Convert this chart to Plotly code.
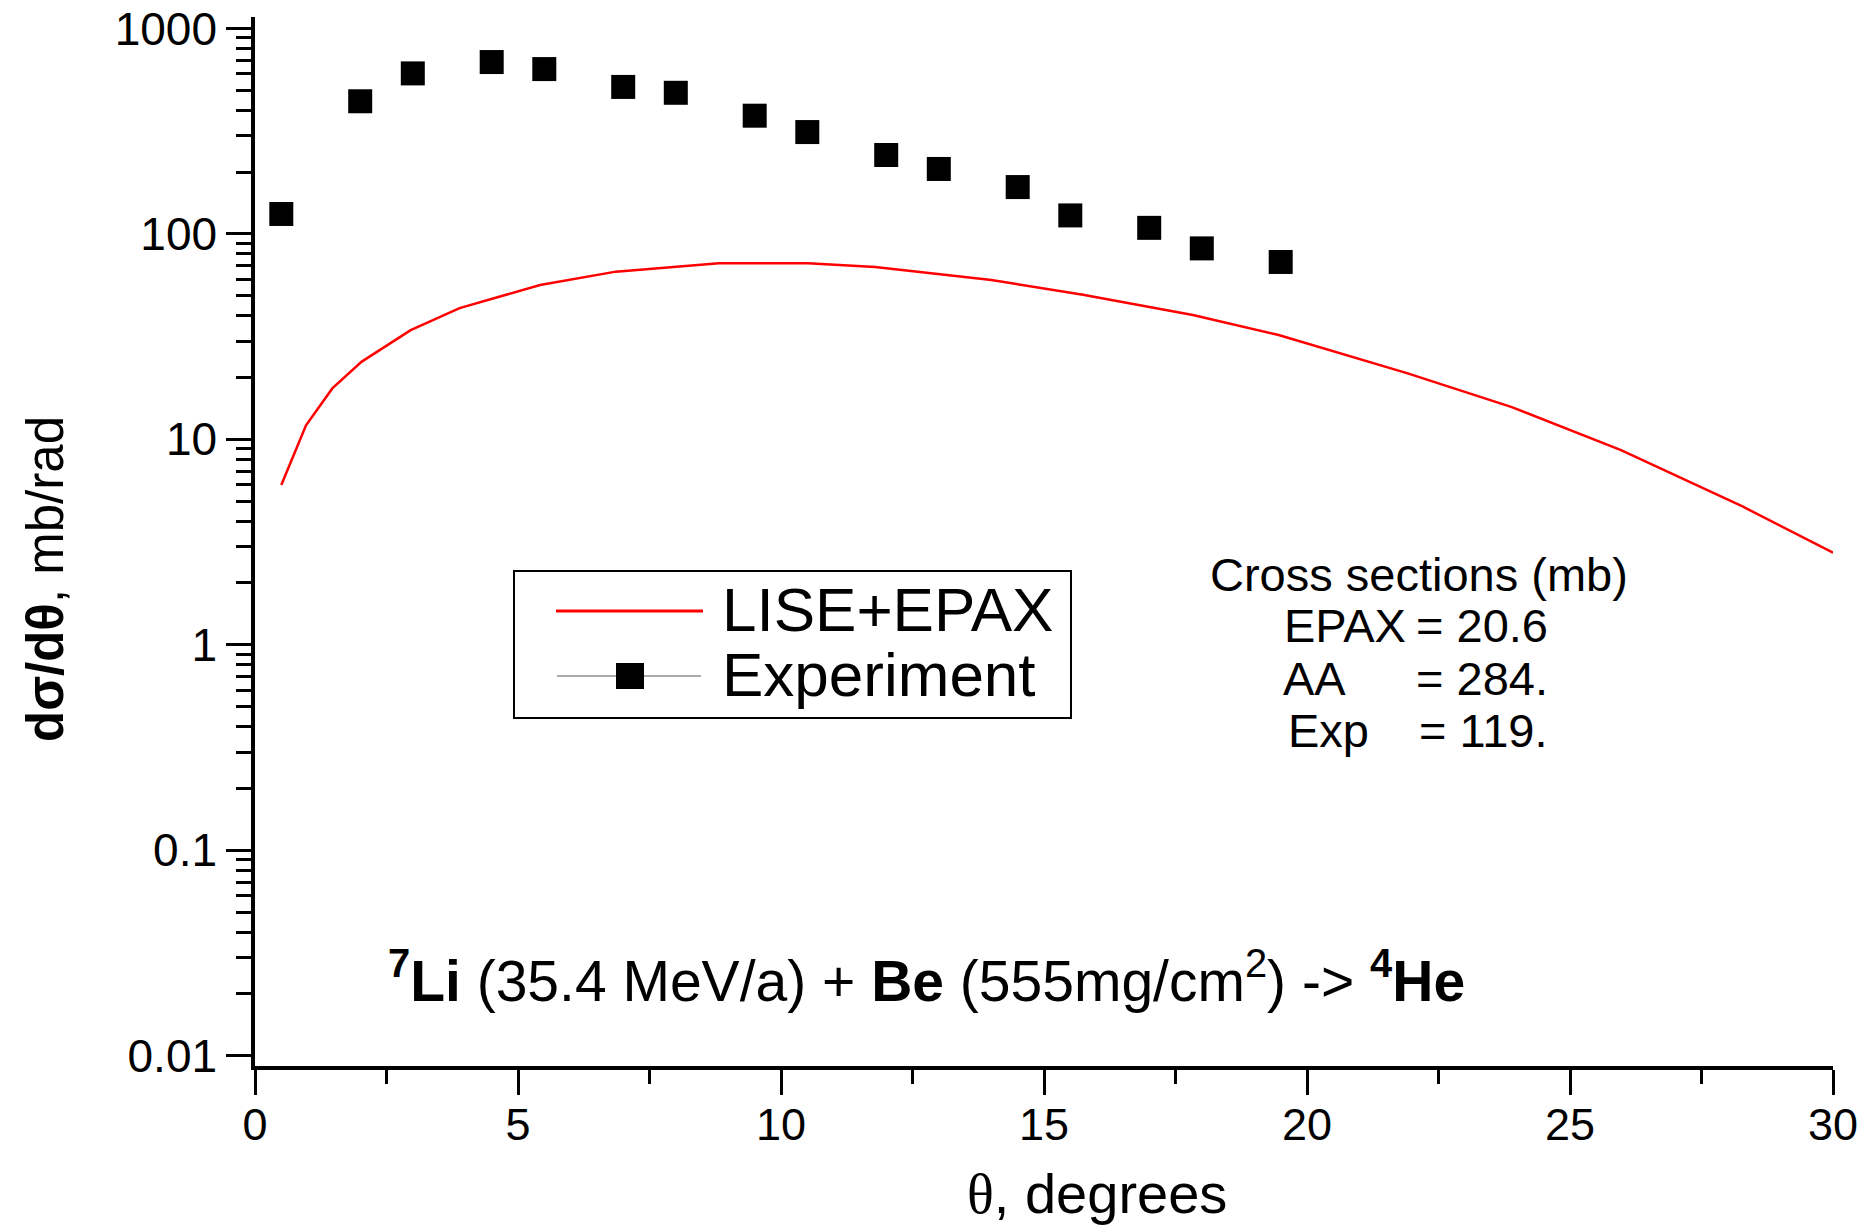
import plotly.graph_objects as go

# ---------------- data ----------------
exp_theta = [0.5, 2.0, 3.0, 4.5, 5.5, 7.0, 8.0, 9.5, 10.5, 12.0, 13.0, 14.5, 15.5, 17.0, 18.0, 19.5]
exp_sigma = [125, 442, 604, 686, 634, 519, 486, 376, 313, 242, 207, 169, 123, 107, 85, 73]

calc_theta = [0.5, 0.97, 1.47, 2.03, 2.96, 3.89, 5.42, 6.86, 8.82, 10.51, 11.79, 12.26, 14.0,
              15.74, 17.83, 19.46, 21.9, 23.88, 25.97, 28.29, 30.0]
calc_sigma = [6.0, 11.7, 17.7, 23.9, 34.0, 43.5, 56.4, 65.5, 72.0, 72.0, 69.0, 67.0, 59.7,
              50.5, 40.3, 32.2, 21.0, 14.4, 8.87, 4.70, 2.81]

y_major = [0.01, 0.1, 1, 10, 100, 1000]
y_major_text = ["0.01", "0.1", "1", "10", "100", "1000"]
y_minor = [m * d for d in [0.01, 0.1, 1, 10, 100] for m in range(2, 10)]
x_major = [0, 5, 10, 15, 20, 25, 30]
x_minor = [2.5, 7.5, 12.5, 17.5, 22.5, 27.5]

legend_names = ["LISE+EPAX", "Experiment"]
xs_title = "Cross sections (mb)"
xs_labels = ["EPAX", "AA", "Exp"]
xs_values = ["= 20.6", "= 284.", "= 119."]

# ---------------- layout geometry (pixels) ----------------
W, H = 1858, 1228
L, R, T, B = 255, 1833, 17, 1066
FONT = "Liberation Sans, Arial, sans-serif"


def px(x):
    return (x - L) / (R - L)


def py(y):
    return (B - y) / (B - T)


fig = go.Figure()
fig.add_trace(go.Scatter(x=calc_theta, y=calc_sigma, mode="lines", name=legend_names[0],
                         line=dict(color="#ff0000", width=2.5), showlegend=False))
fig.add_trace(go.Scatter(x=exp_theta, y=exp_sigma, mode="markers", name=legend_names[1],
                         marker=dict(symbol="square", size=24, color="black"), showlegend=False))

shapes = []
annotations = []

# manual legend (Origin style)
shapes.append(dict(type="rect", xref="paper", yref="paper", x0=px(514), x1=px(1071),
                   y0=py(718), y1=py(571), line=dict(color="black", width=2), fillcolor="white",
                   layer="below"))
shapes.append(dict(type="line", xref="paper", yref="paper", x0=px(556), x1=px(703),
                   y0=py(611), y1=py(611), line=dict(color="#ff0000", width=3)))
shapes.append(dict(type="line", xref="paper", yref="paper", x0=px(557), x1=px(701),
                   y0=py(676), y1=py(676), line=dict(color="#555555", width=1)))
shapes.append(dict(type="rect", xref="paper", yref="paper", x0=px(616), x1=px(644),
                   y0=py(689), y1=py(663), line=dict(color="black", width=0), fillcolor="black"))
annotations.append(dict(text=legend_names[0], xref="paper", yref="paper", x=px(720), y=py(609),
                        xanchor="left", yanchor="middle", showarrow=False,
                        font=dict(family=FONT, size=62, color="black")))
annotations.append(dict(text=legend_names[1], xref="paper", yref="paper", x=px(720), y=py(674),
                        xanchor="left", yanchor="middle", showarrow=False,
                        font=dict(family=FONT, size=62, color="black")))

# cross sections text block
annotations.append(dict(text=xs_title, xref="paper", yref="paper", x=px(1208), y=py(574),
                        xanchor="left", yanchor="middle", showarrow=False,
                        font=dict(family=FONT, size=47, color="black")))
for lab, val, lx, yy in zip(xs_labels, xs_values, [1282, 1281, 1286], [625, 678, 731]):
    annotations.append(dict(text=lab, xref="paper", yref="paper", x=px(lx), y=py(yy),
                            xanchor="left", yanchor="middle", showarrow=False,
                            font=dict(family=FONT, size=47, color="black")))
    annotations.append(dict(text=val, xref="paper", yref="paper", x=px(1550), y=py(yy),
                            xanchor="right", yanchor="middle", showarrow=False,
                            font=dict(family=FONT, size=47, color="black")))

# reaction text
annotations.append(dict(
    text="<b><sup>7</sup>Li</b> (35.4 MeV/a) + <b>Be</b> (555mg/cm<sup>2</sup>) -&gt; <b><sup>4</sup>He</b>",
    xref="paper", yref="paper", x=px(386), y=py(977), xanchor="left", yanchor="middle",
    showarrow=False, font=dict(family=FONT, size=57, color="black")))

# axis titles
annotations.append(dict(
    text="<span style='font-family:Liberation Serif'>θ</span>, degrees",
    xref="paper", yref="paper", x=px(1097), y=py(1227), xanchor="center", yanchor="bottom",
    showarrow=False, font=dict(family=FONT, size=56, color="black")))
annotations.append(dict(
    text="<b>dσ/dθ</b>, mb/rad", textangle=-90,
    xref="paper", yref="paper", x=px(45), y=py(579), xanchor="center", yanchor="middle",
    showarrow=False, font=dict(family=FONT, size=51, color="black")))

fig.update_layout(
    width=W, height=H,
    margin=dict(l=L, r=W - R, t=T, b=H - B, pad=0),
    paper_bgcolor="white", plot_bgcolor="white",
    shapes=shapes, annotations=annotations,
    showlegend=False,
    font=dict(family=FONT, color="black"),
)
fig.update_xaxes(
    range=[0, 30], showgrid=False, zeroline=False, automargin=False,
    showline=True, linecolor="black", linewidth=3.5,
    ticks="outside", ticklen=25, tickwidth=2.5, tickcolor="black",
    tickmode="array", tickvals=x_major, ticktext=[str(v) for v in x_major],
    tickfont=dict(family=FONT, size=45, color="black"), ticklabelstandoff=-9,
    ticklabeloverflow="allow",
    minor=dict(ticks="outside", ticklen=14, tickwidth=2.5, tickcolor="black",
               tickmode="array", tickvals=x_minor, showgrid=False),
)
fig.update_yaxes(
    type="log", range=[-2.0496, 3.0555], showgrid=False, zeroline=False, automargin=False,
    showline=True, linecolor="black", linewidth=3.5,
    ticks="outside", ticklen=25, tickwidth=2.5, tickcolor="black",
    tickmode="array", tickvals=y_major, ticktext=y_major_text,
    tickfont=dict(family=FONT, size=46, color="black"), ticklabelstandoff=0,
    ticklabeloverflow="allow",
    minor=dict(ticks="outside", ticklen=15, tickwidth=2.5, tickcolor="black",
               tickmode="array", tickvals=y_minor, showgrid=False),
)

fig.write_html("out.html")
